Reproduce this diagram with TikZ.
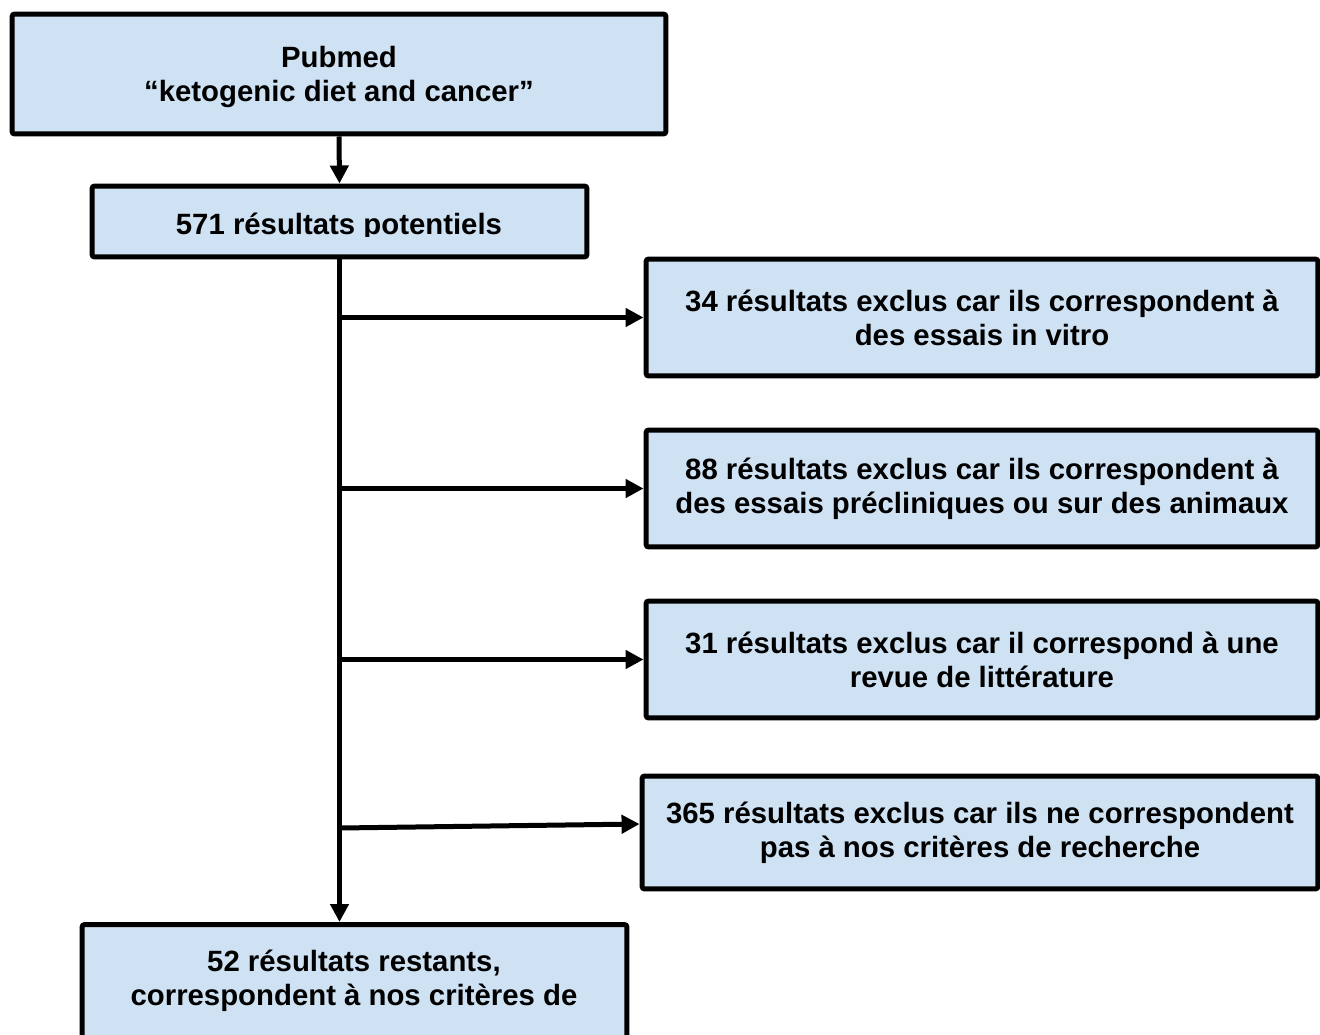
\documentclass[tikz,border=0pt]{standalone}
\usepackage{fontspec}
\setmainfont{Liberation Sans}
\usetikzlibrary{arrows.meta, positioning}
\definecolor{boxblue}{RGB}{207,226,243}

\begin{document}
\begin{tikzpicture}[
	x=0.02cm, y=-0.02cm,
	box label/.style={font=\fontsize{16.7}{19.3}\selectfont\bfseries, align=center},
	box/.style={draw=black, line width=0.1cm, rounded corners=1.5pt, fill=boxblue, inner sep=0pt, box label},
	flow line/.style={line width=0.1cm, black},
	flow arrow/.style={flow line, -{Triangle[length=0.36cm, width=0.36cm]}},
	]
	\useasboundingbox (0,0) rectangle (1320,1035);
	\clip (0,0) rectangle (1320,1035);
	
	% TOP - search and raw results
	\node[box, minimum width=13.08cm, minimum height=2.4cm] (pubmed) at (339,74)
	{\rule{0pt}{0.54cm}Pubmed\\“ketogenic diet and cancer”};
	
	\node[box, minimum width=9.9cm, minimum height=1.42cm] (pot) at (339.5,221.5) {};
	\begin{scope}
		\clip (pot.north west) rectangle (pot.east |- 0,236.5);
		\node[box label, anchor=base] (pottxt) at (339,234.5) {571 résultats potentiels};
	\end{scope}
	
	% RIGHT SIDE - exclusions
	\node[box, minimum width=13.44cm, minimum height=2.34cm] (vitro) at (982,317.5)
	{34 résultats exclus car ils correspondent à\\des essais in vitro};
	\node[box, minimum width=13.44cm, minimum height=2.34cm] (animal) at (982,488.5)
	{88 résultats exclus car ils correspondent à\\des essais précliniques ou sur des animaux};
	\node[box, minimum width=13.44cm, minimum height=2.34cm] (revue) at (982,659.5)
	{31 résultats exclus car il correspond à une\\revue de littérature};
	\node[box, minimum width=13.52cm, minimum height=2.26cm] (noncrit) at (980,832.5)
	{365 résultats exclus car ils ne correspondent\\pas à nos critères de recherche};
	
	% BOTTOM - remaining results
	\node[box, minimum width=10.9cm, minimum height=3.6cm, anchor=north] (final) at (354.5,922) {};
	\node[box label] (finaltxt) at (354,981) {52 résultats restants,\\correspondent à nos critères de};
	
	% Arrows
	\draw[flow arrow] (pubmed.south) -- (pot.north);
	\draw[flow arrow] (pot.south) -- (pot.south |- final.north);
	\draw[flow arrow] (pot.south |- vitro.west) -- (vitro.west);
	\draw[flow arrow] (pot.south |- animal.west) -- (animal.west);
	\draw[flow arrow] (pot.south |- revue.west) -- (revue.west);
	\coordinate (j4) at (340,828);
	\draw[flow arrow] (j4) -- ([yshift=0.17cm]noncrit.west);
	
\end{tikzpicture}
\end{document}
